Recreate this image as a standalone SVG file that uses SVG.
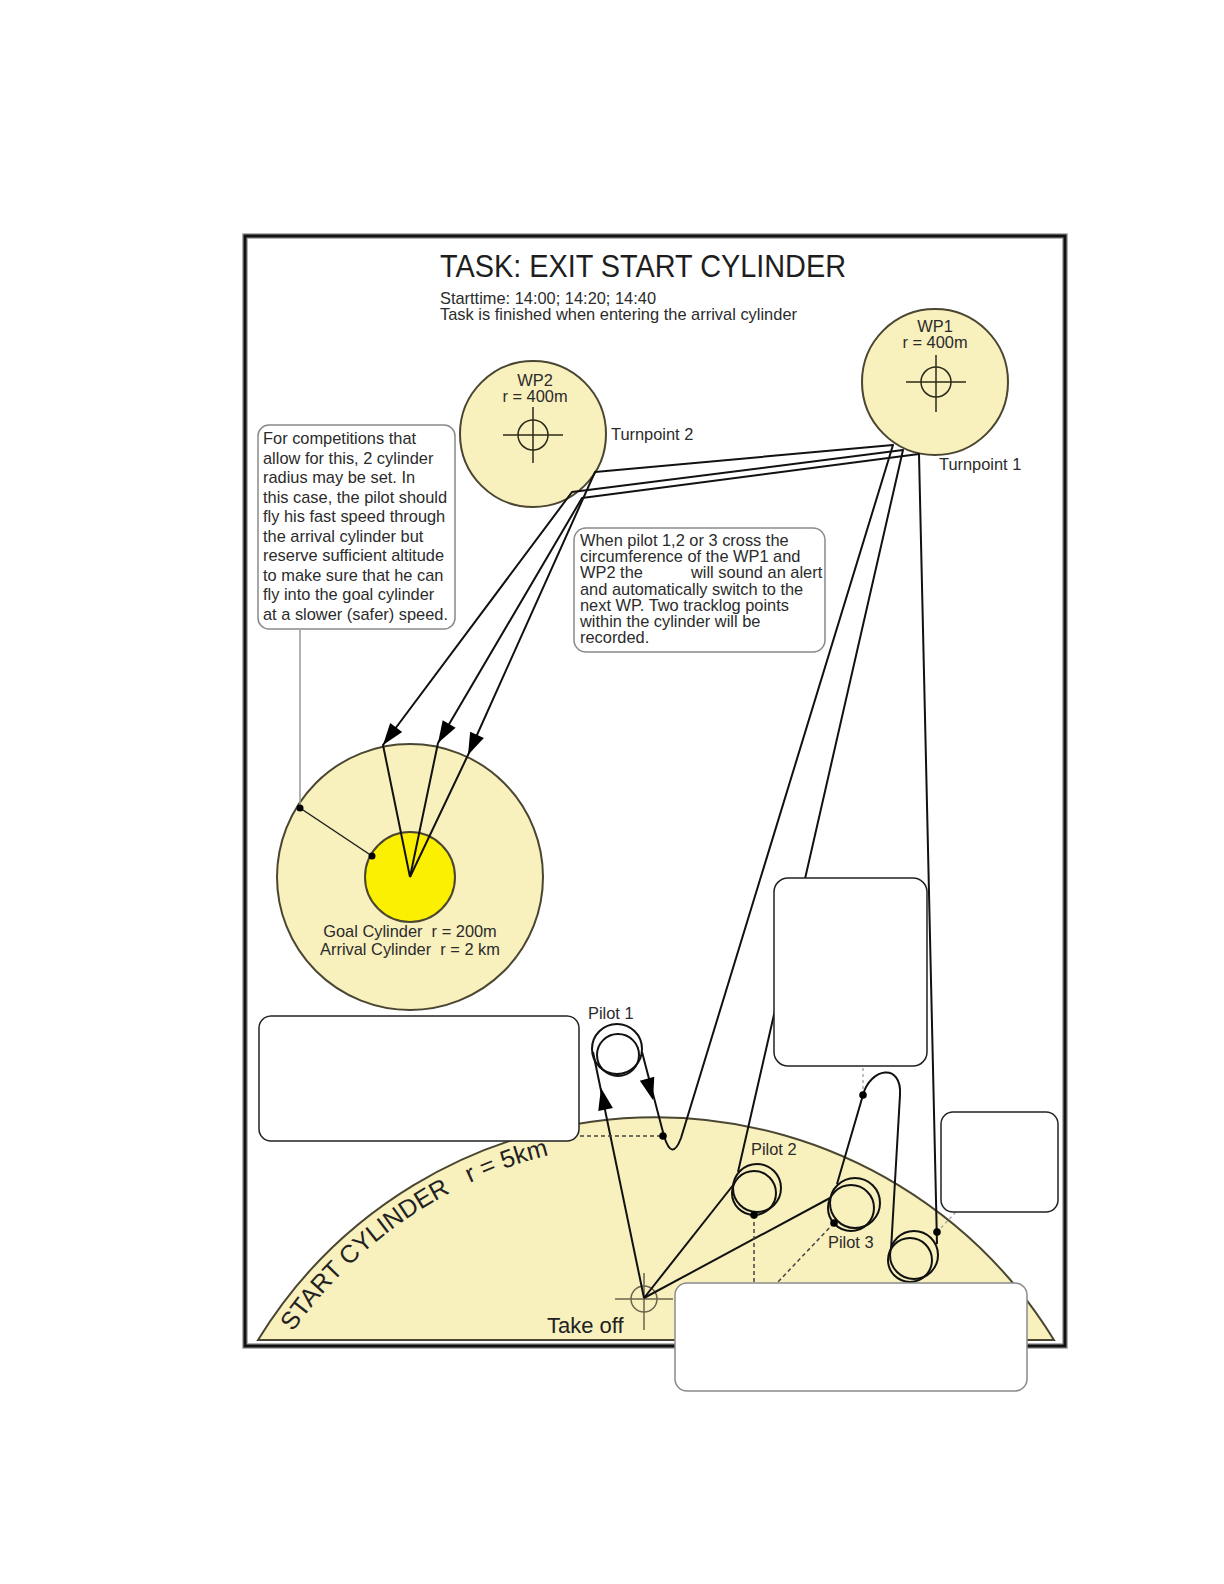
<svg xmlns="http://www.w3.org/2000/svg" xmlns:xlink="http://www.w3.org/1999/xlink" width="1224" height="1584" viewBox="0 0 1224 1584">
<style>
.t{font-family:"Liberation Sans",Arial,sans-serif;font-size:16.4px;fill:#2b2b2b}
.c{text-anchor:middle}
.title{font-size:31px;fill:#1e1e1e}
.big{font-size:25px;fill:#222}
.to{font-size:22px;fill:#222}
.cyl{fill:#f8f0bd;stroke:#4a4632;stroke-width:2}
.trk{fill:none;stroke:#111;stroke-width:2;stroke-linejoin:round}
.dash{fill:none;stroke:#444;stroke-width:1.5;stroke-dasharray:4 3}
.ldash{fill:none;stroke:#aaa;stroke-width:1.5;stroke-dasharray:3 3}
.box{fill:#fff;stroke:#222;stroke-width:1.5}
.note{fill:#fff;stroke:#8a8a8a;stroke-width:1.5}
.xh{fill:none;stroke:#2a2a1a;stroke-width:1.5}
.dot{fill:#000}
</style>
<defs>
<path id="ah" d="M0,0 L-22,-7.5 L-22,7.5 Z" fill="#000"/>
<path id="scArc" d="M 214 1584 A 442 442 0 0 1 1098 1584" fill="none"/>
</defs>
<rect width="1224" height="1584" fill="#fff"/>
<g id="frame">
<rect x="245" y="236" width="820" height="1110" fill="#fff" stroke="#9a9a9a" stroke-width="5.5"/>
<rect x="245" y="236" width="820" height="1110" fill="none" stroke="#111" stroke-width="3"/>
</g>
<g id="title">
<text class="t title" x="440" y="277" textLength="406" lengthAdjust="spacingAndGlyphs">TASK: EXIT START CYLINDER</text>
<text class="t" x="440" y="304" textLength="216" lengthAdjust="spacingAndGlyphs">Starttime: 14:00; 14:20; 14:40</text>
<text class="t" x="440" y="320" textLength="357" lengthAdjust="spacingAndGlyphs">Task is finished when entering the arrival cylinder</text>
</g>
<g id="start-cylinder">
<path class="cyl" d="M 258 1340 A 467 467 0 0 1 1054 1340 Z"/>
<text class="t big"><textPath href="#scArc" xlink:href="#scArc" startOffset="268">START CYLINDER</textPath></text>
<text class="t big"><textPath href="#scArc" xlink:href="#scArc" startOffset="502">r = 5km</textPath></text>
</g>
<g id="takeoff">
<circle cx="644" cy="1299" r="13" fill="none" stroke="#6b6650" stroke-width="1.5"/>
<line x1="615" y1="1299" x2="673" y2="1299" stroke="#6b6650" stroke-width="1.5"/>
<line x1="644" y1="1273" x2="644" y2="1330" stroke="#6b6650" stroke-width="1.5"/>
<text class="t to" x="547" y="1333">Take off</text>
</g>
<g id="arrival-cylinder">
<circle class="cyl" cx="410" cy="877" r="133"/>
<circle cx="410" cy="877" r="45" fill="#fbf000" stroke="#4a4632" stroke-width="2"/>
<text class="t c" x="410" y="937">Goal Cylinder&#160; r = 200m</text>
<text class="t c" x="410" y="955">Arrival Cylinder&#160; r = 2 km</text>
</g>
<g id="wp1">
<circle class="cyl" cx="935" cy="382" r="73"/>
<text class="t c" x="935" y="332">WP1</text>
<text class="t c" x="935" y="348">r = 400m</text>
<circle class="xh" cx="936" cy="382" r="15"/>
<line class="xh" x1="906" y1="382" x2="966" y2="382"/>
<line class="xh" x1="936" y1="355" x2="936" y2="412"/>
<text class="t" x="939" y="470">Turnpoint 1</text>
</g>
<g id="wp2">
<circle class="cyl" cx="533" cy="434" r="73"/>
<text class="t c" x="535" y="386">WP2</text>
<text class="t c" x="535" y="402">r = 400m</text>
<circle class="xh" cx="533" cy="435" r="15"/>
<line class="xh" x1="503" y1="435" x2="563" y2="435"/>
<line class="xh" x1="533" y1="407" x2="533" y2="463"/>
<text class="t" x="611" y="440">Turnpoint 2</text>
</g>
<g id="connectors">
<line x1="300" y1="630" x2="300" y2="808" stroke="#999" stroke-width="1.5"/>
<line x1="300" y1="808" x2="372" y2="856" stroke="#222" stroke-width="1.5"/>
<circle class="dot" cx="300" cy="808" r="3.5"/>
<circle class="dot" cx="372" cy="856" r="3.5"/>
<path class="trk" d="M 644 1298 L 593 1052"/>
<circle class="trk" cx="617" cy="1049" r="25"/>
<circle class="trk" cx="618" cy="1055" r="21"/>
<path class="trk" d="M 642 1052 L 664 1136 Q 672 1162 681 1138 L 893 445 L 595 472 L 468 755 L 410 877"/>
<path class="trk" d="M 644 1298 L 734 1184"/>
<circle class="trk" cx="757" cy="1188" r="24"/>
<circle class="trk" cx="754" cy="1193" r="22"/>
<path class="trk" d="M 738 1172 L 903 450 L 572 492 L 383 745 L 410 877"/>
<path class="trk" d="M 644 1298 L 830 1198"/>
<circle class="trk" cx="855" cy="1203" r="25"/>
<circle class="trk" cx="851" cy="1208" r="23"/>
<path class="trk" d="M 837 1184 L 863 1095 C 870 1068 902 1062 900 1095 L 891 1250"/>
<circle class="trk" cx="914" cy="1255" r="24"/>
<circle class="trk" cx="910" cy="1260" r="22"/>
<path class="trk" d="M 937 1244 L 919 454 L 582 498 L 438 743 L 410 877"/>
<use href="#ah" xlink:href="#ah" transform="translate(383,745) rotate(126.8)"/>
<use href="#ah" xlink:href="#ah" transform="translate(438,743) rotate(120.4)"/>
<use href="#ah" xlink:href="#ah" transform="translate(468,755) rotate(114.2)"/>
<use href="#ah" xlink:href="#ah" transform="translate(601,1088) rotate(-102)"/>
<use href="#ah" xlink:href="#ah" transform="translate(653,1100) rotate(74.3)"/>
<line class="dash" x1="580" y1="1136" x2="663" y2="1136"/>
<line class="dash" x1="754" y1="1215" x2="754" y2="1283"/>
<line class="dash" x1="834" y1="1223" x2="777" y2="1283"/>
<line class="ldash" x1="863" y1="1095" x2="863" y2="1066"/>
<line class="ldash" x1="937" y1="1232" x2="956" y2="1212"/>
<circle class="dot" cx="663" cy="1136" r="3.8"/>
<circle class="dot" cx="754" cy="1215" r="3.8"/>
<circle class="dot" cx="834" cy="1223" r="3.8"/>
<circle class="dot" cx="863" cy="1095" r="3.8"/>
<circle class="dot" cx="937" cy="1232" r="3.8"/>
</g>
<g id="pilot-labels">
<text class="t" x="588" y="1019">Pilot 1</text>
<text class="t" x="751" y="1155">Pilot 2</text>
<text class="t" x="828" y="1248">Pilot 3</text>
</g>
<g id="note-left">
<rect class="note" x="258" y="425" width="197" height="204" rx="11"/>
<text class="t" x="263" y="444">For competitions that</text>
<text class="t" x="263" y="463.5">allow for this, 2 cylinder</text>
<text class="t" x="263" y="483">radius may be set. In</text>
<text class="t" x="263" y="502.5">this case, the pilot should</text>
<text class="t" x="263" y="522">fly his fast speed through</text>
<text class="t" x="263" y="541.5">the arrival cylinder but</text>
<text class="t" x="263" y="561">reserve sufficient altitude</text>
<text class="t" x="263" y="580.5">to make sure that he can</text>
<text class="t" x="263" y="600">fly into the goal cylinder</text>
<text class="t" x="263" y="619.5">at a slower (safer) speed.</text>
</g>
<g id="note-middle">
<rect class="note" x="574" y="528" width="251" height="124" rx="12"/>
<text class="t" x="580" y="546">When pilot 1,2 or 3 cross the</text>
<text class="t" x="580" y="562">circumference of the WP1 and</text>
<text class="t" x="580" y="578">WP2 the</text>
<text class="t" x="691" y="578">will sound an alert</text>
<text class="t" x="580" y="595">and automatically switch to the</text>
<text class="t" x="580" y="611">next WP. Two tracklog points</text>
<text class="t" x="580" y="627">within the cylinder will be</text>
<text class="t" x="580" y="643">recorded.</text>
</g>
<g id="blank-box-1"><rect class="box" x="259" y="1016" width="320" height="125" rx="12"/></g>
<g id="blank-box-2"><rect class="box" x="774" y="878" width="153" height="188" rx="14"/></g>
<g id="blank-box-3"><rect class="box" x="941" y="1112" width="117" height="100" rx="12"/></g>
<g id="blank-box-4"><rect class="note" x="675" y="1283" width="352" height="108" rx="12"/></g>
</svg>
